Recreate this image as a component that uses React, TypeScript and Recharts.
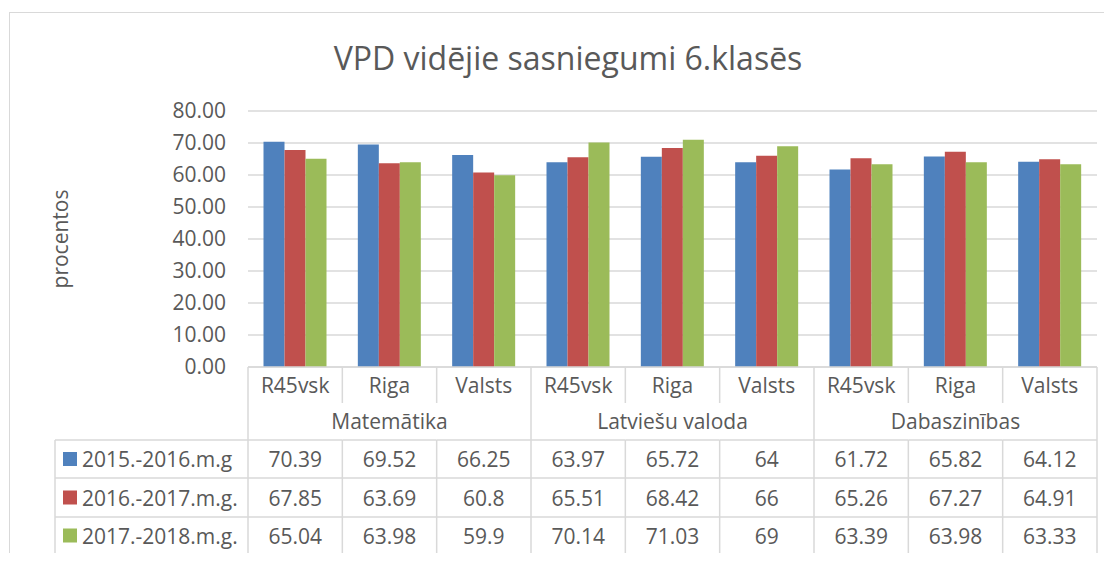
import React from 'react';
import { BarChart, Bar, XAxis, YAxis, CartesianGrid, Label } from 'recharts';

const categories = ['R45vsk', 'Riga', 'Valsts', 'R45vsk', 'Riga', 'Valsts', 'R45vsk', 'Riga', 'Valsts'];
const groups = ['Matemātika', 'Latviešu valoda', 'Dabaszinības'];
const seriesNames = ['2015.-2016.m.g', '2016.-2017.m.g.', '2017.-2018.m.g.'];
const values2015 = [70.39, 69.52, 66.25, 63.97, 65.72, 64, 61.72, 65.82, 64.12];
const values2016 = [67.85, 63.69, 60.8, 65.51, 68.42, 66, 65.26, 67.27, 64.91];
const values2017 = [65.04, 63.98, 59.9, 70.14, 71.03, 69, 63.39, 63.98, 63.33];
const yTicks = [0, 10, 20, 30, 40, 50, 60, 70, 80];

const seriesValues = [values2015, values2016, values2017];
const seriesColors = ['#4F81BD', '#C0504D', '#9BBB59'];
const seriesKeys = ['s0', 's1', 's2'];

const data = categories.map((c, i) => ({
  name: c,
  s0: values2015[i],
  s1: values2016[i],
  s2: values2017[i],
}));

const FONT = '"Open Sans", sans-serif';
const TXT = '#595959';
const LINE = '#d9d9d9';
const W = 1104;
const H = 553;
const PLOT_LEFT = 240;
const PLOT_RIGHT_MARGIN = 15;
const BW = (W - PLOT_LEFT - PLOT_RIGHT_MARGIN) / categories.length;
const FS = 21;

const TableTick = (props: any) => {
  const { x, y, index } = props;
  const half = BW / 2;
  const left = x - half;
  const right = x + half;
  const rowLines = [y + 73, y + 111, y + 150, y + 187];
  const rowCenters = [y + 92, y + 130.5, y + 168.5];
  const els: any[] = [];
  // category label
  els.push(
    <text key="cat" x={x} y={y + 18} textAnchor="middle" dominantBaseline="central" fill={TXT} fontSize={FS} fontFamily={FONT}>
      {categories[index]}
    </text>
  );
  if (index % 3 === 1) {
    els.push(
      <text key="grp" x={x} y={y + 54} textAnchor="middle" dominantBaseline="central" fill={TXT} fontSize={FS} fontFamily={FONT}>
        {groups[Math.floor(index / 3)]}
      </text>
    );
  }
  if (index % 3 === 0) {
    els.push(<line key="lb" x1={left} x2={left} y1={y} y2={y + 187} stroke={LINE} strokeWidth={1.5} />);
  } else {
    els.push(<line key="lb1" x1={left} x2={left} y1={y} y2={y + 36} stroke={LINE} strokeWidth={1.5} />);
    els.push(<line key="lb2" x1={left} x2={left} y1={rowLines[0]} y2={y + 187} stroke={LINE} strokeWidth={1.5} />);
  }
  if (index === categories.length - 1) {
    els.push(<line key="rb" x1={right} x2={right} y1={y} y2={y + 187} stroke={LINE} strokeWidth={1.5} />);
  }
  rowLines.forEach((ry, k) => {
    els.push(<line key={'h' + k} x1={left} x2={right} y1={ry} y2={ry} stroke={LINE} strokeWidth={1.5} />);
  });
  seriesValues.forEach((vals, k) => {
    els.push(
      <text key={'v' + k} x={x} y={rowCenters[k]} textAnchor="middle" dominantBaseline="central" fill={TXT} fontSize={FS} fontFamily={FONT}>
        {String(vals[index])}
      </text>
    );
  });
  if (index === 0) {
    const lx = left - 193;
    rowLines.forEach((ry, k) => {
      els.push(<line key={'lh' + k} x1={lx} x2={left} y1={ry} y2={ry} stroke={LINE} strokeWidth={1.5} />);
    });
    els.push(<line key="lv" x1={lx} x2={lx} y1={rowLines[0]} y2={y + 187} stroke={LINE} strokeWidth={1.5} />);
    seriesNames.forEach((n, k) => {
      els.push(<rect key={'sq' + k} x={lx + 8} y={rowCenters[k] - 7} width={14} height={14} fill={seriesColors[k]} />);
      els.push(
        <text key={'ln' + k} x={lx + 27} y={rowCenters[k]} textAnchor="start" dominantBaseline="central" fill={TXT} fontSize={FS} fontFamily={FONT}>
          {n}
        </text>
      );
    });
  }
  return <g>{els}</g>;
};

export default function App() {
  return (
    <div style={{ position: 'relative', width: W, height: H, marginBottom: -8, overflow: 'hidden', background: '#fff' }}>
      <div
        style={{
          position: 'absolute',
          left: 1,
          top: 4,
          right: 0,
          bottom: 0,
          borderTop: `1.5px solid ${LINE}`,
          borderLeft: `1.5px solid ${LINE}`,
        }}
      />
      <div
        style={{
          position: 'absolute',
          left: 260,
          width: 600,
          top: 28,
          lineHeight: '44px',
          textAlign: 'center',
          fontFamily: FONT,
          fontSize: 32,
          color: TXT,
          whiteSpace: 'nowrap',
        }}
      >
        VPD vidējie sasniegumi 6.klasēs
      </div>
      <div style={{ position: 'absolute', left: 0, top: 0 }}>
        <BarChart
          width={W}
          height={H}
          data={data}
          margin={{ top: 103, right: PLOT_RIGHT_MARGIN, left: 0, bottom: 7 }}
          barCategoryGap={15.5}
          barGap={0}
        >
          <CartesianGrid vertical={false} stroke={LINE} strokeWidth={1.5} />
          <XAxis
            dataKey="name"
            height={187}
            interval={0}
            tickSize={0}
            tickMargin={0}
            tickLine={false}
            axisLine={{ stroke: LINE, strokeWidth: 1.5 }}
            tick={<TableTick />}
          />
          <YAxis
            width={PLOT_LEFT}
            domain={[0, 80]}
            ticks={yTicks}
            interval={0}
            tickSize={0}
            tickMargin={22}
            tickLine={false}
            axisLine={false}
            tickFormatter={(v: number) => v.toFixed(2)}
            tick={{ fill: TXT, fontSize: FS, fontFamily: FONT }}
          >
            <Label
              content={(p: any) => {
                const vb = p.viewBox || { x: 0, y: 103, width: 240, height: 256 };
                const cx = vb.x + 52;
                const cy = vb.y + vb.height / 2;
                return (
                  <text
                    x={cx}
                    y={cy}
                    transform={`rotate(-90 ${cx} ${cy})`}
                    textAnchor="middle"
                    dominantBaseline="central"
                    fill={TXT}
                    fontSize={FS}
                    fontFamily={FONT}
                  >
                    procentos
                  </text>
                );
              }}
            />
          </YAxis>
          {seriesKeys.map((k, i) => (
            <Bar key={k} dataKey={k} name={seriesNames[i]} fill={seriesColors[i]} isAnimationActive={false} />
          ))}
        </BarChart>
      </div>
    </div>
  );
}
